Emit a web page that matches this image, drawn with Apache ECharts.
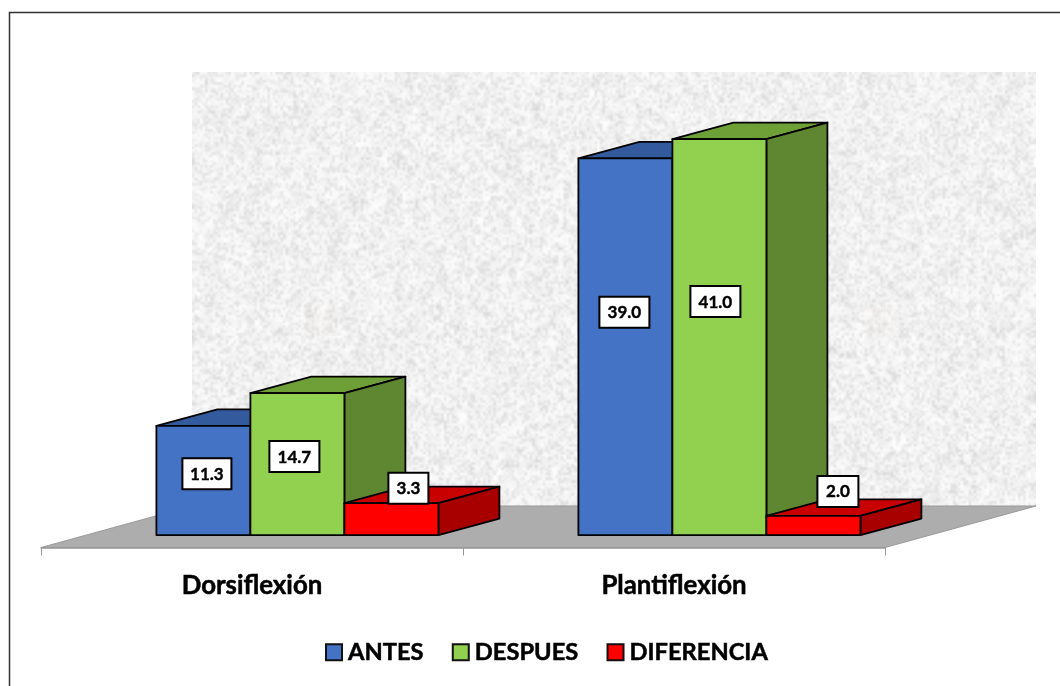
<!DOCTYPE html>
<html>
<head>
<meta charset="utf-8">
<style>html,body{margin:0;padding:0;background:#fff}#c{width:1060px;height:686px}</style>
<script src="https://cdn.jsdelivr.net/npm/echarts@6/dist/echarts.min.js"></script>
</head>
<body>
<div id="c"></div>
<script>
const categories = ['Dorsiflexión', 'Plantiflexión'];
const antes = [11.3, 39.0];
const despues = [14.7, 41.0];
const diferencia = [3.3, 2.0];
const seriesNames = ['ANTES', 'DESPUES', 'DIFERENCIA'];

const AXIS_MAX = 45;
const FONT = 'Lato, Carlito, sans-serif';
const FLOOR_DEPTH = [151, -41.5];
const BAR_DEPTH = [61, -16.5];
const BAR_FRONT = [45.4, -12.4];
const BAR_BAND_SHARE = 94 / 422;
const LABEL_BOX = [
  [[49, 31], [50, 31], [40, 31]],
  [[50, 31], [50, 31], [41, 31]]
];
const LABEL_NUDGE = [
  [[3.5, -6.7], [-3, -7.5], [17, -31]],
  [[-1, -34.5], [-4, -35.5], [24.5, -34]]
];
const PALETTE = [
  {front: '#4472c4', top: '#335a9c', side: '#335a9c'},
  {front: '#92d050', top: '#6f9f37', side: '#5f8732'},
  {front: '#ff0000', top: '#c80000', side: '#a80000'}
];

function makeTexture(w, h) {
  let seed = 12345;
  const rnd = () => (seed = (seed * 16807) % 2147483647) / 2147483647;
  const c = document.createElement('canvas');
  c.width = w; c.height = h;
  const g = c.getContext('2d');
  g.fillStyle = '#f6f6f6';
  g.fillRect(0, 0, w, h);
  [[2.6, 0.75], [6, 0.3]].forEach(([cell, alpha]) => {
    const n = document.createElement('canvas');
    n.width = Math.ceil(w / cell); n.height = Math.ceil(h / cell);
    const ng = n.getContext('2d');
    const img = ng.createImageData(n.width, n.height);
    for (let i = 0; i < img.data.length; i += 4) {
      const r = rnd();
      const v = 255 - 48 * r * r;
      img.data[i] = img.data[i + 1] = img.data[i + 2] = v;
      img.data[i + 3] = 255;
    }
    ng.putImageData(img, 0, 0);
    g.globalAlpha = alpha;
    g.imageSmoothingEnabled = true;
    g.drawImage(n, 0, 0, w, h);
  });
  g.globalAlpha = 0.025;
  g.fillStyle = '#d9a05b';
  g.fillRect(113, 235, 32, 30);
  g.fillRect(668, 235, 32, 30);
  g.globalAlpha = 1;
  return c;
}
const wallTexture = makeTexture(844, 435);

function renderStage(params, api) {
  const a = api.coord([0, 0]);
  const band = api.size([1, 0])[0];
  const left = a[0] - band / 2;
  const right = left + band * categories.length;
  const y0 = a[1];
  const yTop = api.coord([0, AXIS_MAX])[1];
  const [dx, dy] = FLOOR_DEPTH;
  return {
    type: 'group',
    silent: true,
    children: [
      {type: 'image', style: {image: wallTexture, x: left + dx, y: yTop + dy + 0.5, width: right - left, height: y0 - yTop - 0.5}},
      {type: 'polygon', shape: {points: [[left, y0], [left + dx, y0 + dy], [right + dx, y0 + dy], [right, y0]]},
        style: {fill: '#adadad', stroke: '#9a9a9a', lineWidth: 1}}
    ]
  };
}

function makeRenderBar(s) {
  return function (params, api) {
    const i = api.value(0), v = api.value(1);
    const c = PALETTE[s];
    const band = api.size([1, 0])[0];
    const w = band * BAR_BAND_SHARE;
    const base = api.coord([i, 0]);
    const top = api.coord([i, v]);
    const x0 = base[0] + BAR_FRONT[0] - w * 1.5 + w * s;
    const x1 = x0 + w;
    const yb = base[1] + BAR_FRONT[1];
    const yt = top[1] + BAR_FRONT[1];
    const [dx, dy] = BAR_DEPTH;
    const edge = {stroke: '#000', lineWidth: 1.8, lineJoin: 'round'};
    const box = LABEL_BOX[i][s];
    const nudge = LABEL_NUDGE[i][s];
    const lx = (x0 + x1) / 2 + nudge[0];
    const ly = (yt + yb) / 2 + nudge[1];
    return {
      type: 'group',
      children: [
        {type: 'polygon', shape: {points: [[x0, yt], [x0 + dx, yt + dy], [x1 + dx, yt + dy], [x1, yt]]}, style: Object.assign({fill: c.top}, edge)},
        {type: 'polygon', shape: {points: [[x1, yt], [x1 + dx, yt + dy], [x1 + dx, yb + dy], [x1, yb]]}, style: Object.assign({fill: c.side}, edge)},
        {type: 'rect', shape: {x: x0, y: yt, width: w, height: yb - yt}, style: Object.assign({fill: c.front}, edge)},
        {type: 'rect', z2: 20, shape: {x: lx - box[0] / 2, y: ly - box[1] / 2, width: box[0], height: box[1]},
          style: {fill: '#fff', stroke: '#000', lineWidth: 2}},
        {type: 'text', z2: 21, style: {x: lx, y: ly + 0.5, text: v.toFixed(1), align: 'center', verticalAlign: 'middle',
          fill: '#000', stroke: '#000', lineWidth: 0.4, font: 'bold 17px ' + FONT}}
      ]
    };
  };
}

const chart = echarts.init(document.getElementById('c'), null, {renderer: 'canvas', width: 1060, height: 686});
const valueSets = [antes, despues, diferencia];
chart.setOption({
  animation: false,
  backgroundColor: '#fff',
  graphic: [{type: 'rect', z: -1, silent: true, shape: {x: 9.5, y: 12.5, width: 1100, height: 720},
    style: {fill: 'transparent', stroke: '#333', lineWidth: 1.5}}],
  grid: {left: 41, width: 844, top: 112.8, height: 434.7, containLabel: false},
  legend: {
    left: 325, top: 640, padding: 0, itemWidth: 16, itemHeight: 16, itemGap: 28, icon: 'rect',
    data: seriesNames,
    selectedMode: false,
    itemStyle: {borderColor: '#111', borderWidth: 2},
    textStyle: {fontFamily: FONT, fontWeight: 'bold', fontSize: 23.7, color: '#000', padding: [0, 0, 0, 1],
      textBorderColor: '#000', textBorderWidth: 0.5}
  },
  xAxis: {
    type: 'category', data: categories, z: 2,
    axisLine: {lineStyle: {color: '#989898', width: 1.5}},
    axisTick: {show: true, length: 8, lineStyle: {color: '#989898', width: 1}},
    axisLabel: {margin: 25, fontFamily: FONT, fontWeight: 'bold', fontSize: 25.8, color: '#000',
      textBorderColor: '#000', textBorderWidth: 0.5}
  },
  yAxis: {type: 'value', min: 0, max: AXIS_MAX, show: false, splitLine: {show: false}},
  series: [
    {type: 'custom', name: 'stage', z: 1, silent: true, renderItem: renderStage, data: [[0, 0]], encode: {x: 0, y: 1}}
  ].concat(seriesNames.map((name, s) => ({
    type: 'custom', name, z: 3,
    renderItem: makeRenderBar(s),
    itemStyle: {color: PALETTE[s].front, borderColor: '#111', borderWidth: 2},
    data: valueSets[s].map((v, i) => [i, v]),
    encode: {x: 0, y: 1}
  })))
});
</script>
</body>
</html>
